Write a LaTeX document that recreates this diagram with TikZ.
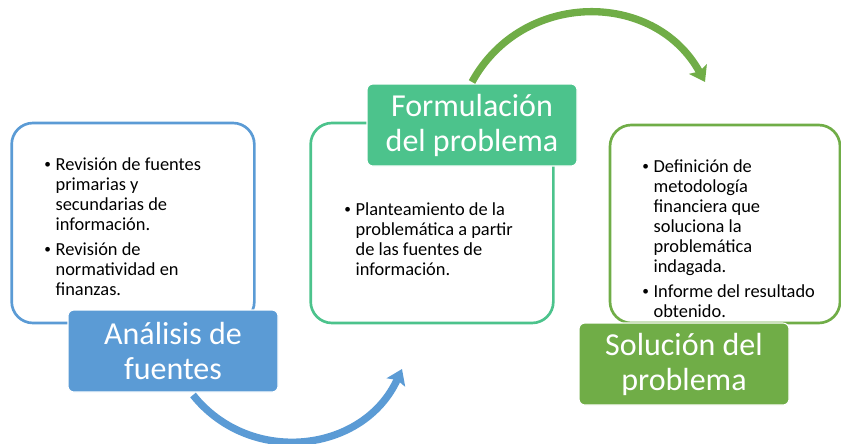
\documentclass[tikz,border=0pt]{standalone}
\usepackage{fontspec}
\setmainfont{Carlito}
\usepackage{xcolor}
\definecolor{myblu1}{HTML}{5B9BD5}
\definecolor{mygre1}{HTML}{4CC38C}
\definecolor{mygre2}{HTML}{70AD47}
\usepackage{tikz}
\usetikzlibrary{arrows.meta}
\tikzstyle{phase} = [rectangle, rounded corners=16pt, line width=2pt, fill=white, minimum width=182pt, minimum height=150pt]
\tikzstyle{heading} = [rectangle, rounded corners=4.5pt, draw=white, line width=0.8pt, minimum width=157.5pt, minimum height=61.5pt, text=white, align=center, font=\fontsize{24}{26.25}\selectfont]
\tikzstyle{items} = [inner sep=0pt, anchor=base west, font=\fontsize{13.8}{15}\selectfont]
\tikzstyle{cycle} = [line width=5.5pt, -{Stealth[length=11pt,width=15pt,inset=2pt]}]
\newcommand{\bul}{\makebox[8.5pt][l]{\raisebox{0.15ex}{\fontsize{10}{10}\selectfont\textbullet}}}
\begin{document}
\begin{tikzpicture}[x=0.75pt,y=-0.75pt]
	\useasboundingbox (0,0) rectangle (841,443);
	% outline boxes
	\node (fuentes)[phase, draw=myblu1] at (133,223) {};
	\node (formul)[phase, draw=mygre1] at (432,223) {};
	\node (solucion)[phase, draw=mygre2, minimum width=172.5pt, minimum height=148.5pt] at (725,224) {};
	% bullet texts
	\node (items1)[items] at (44,170) {\begin{tabular}[t]{@{}l@{}l@{}}
		\bul & Revisión de fuentes\\ & primarias y\\ & secundarias de\\ & información.\\[3.75pt]
		\bul & Revisión de\\ & normatividad en\\ & finanzas.\end{tabular}};
	\node (items2)[items] at (344,215) {\begin{tabular}[t]{@{}l@{}l@{}}
		\bul & Planteamiento de la\\ & problemática a partir\\ & de las fuentes de\\ & información.\end{tabular}};
	\node (items3)[items] at (642,172) {\begin{tabular}[t]{@{}l@{}l@{}}
		\bul & Definición de\\ & metodología\\ & financiera que\\ & soluciona la\\ & problemática\\ & indagada.\\[3.75pt]
		\bul & Informe del resultado\\ & obtenido.\end{tabular}};
	% headings
	\node (tfuentes)[heading, fill=myblu1] at (173,351) {Análisis de\\fuentes};
	\node (tformul)[heading, fill=mygre1] at (472,125) {Formulación\\del problema};
	\node (tsolucion)[heading, fill=mygre2] at (684,364) {Solución del\\problema};
	% arrows
	\coordinate (a1s) at (193,395);
	\coordinate (a1e) at (402,369);
	\coordinate (a2s) at (472,82);
	\coordinate (a2e) at (705,82);
	\draw [cycle, myblu1] (a1s) .. controls (250.6,466.9) and (363.9,452.8) .. (a1e);
	\draw [cycle, mygre2] (a2s) .. controls (522.4,-10.1) and (654.6,-10.1) .. (a2e);
\end{tikzpicture}
\end{document}
